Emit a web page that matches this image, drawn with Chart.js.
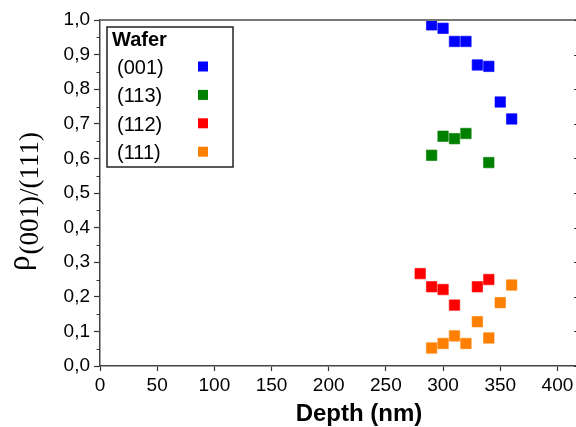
<!DOCTYPE html>
<html>
<head>
<meta charset="utf-8">
<script src="https://cdn.jsdelivr.net/npm/chart.js@4/dist/chart.umd.min.js"></script>
<style>
    html, body { margin: 0; padding: 0; background: #fff; overflow: hidden; }
    #wrap { width: 576px; height: 427px; overflow: hidden; }
</style>
</head>
<body>
<div id="wrap"><canvas id="chart" width="580" height="427"></canvas></div>
<script>
// Tick labels
const depthTicks = [0, 50, 100, 150, 200, 250, 300, 350, 400];
const rhoTicks = [0, 0.1, 0.2, 0.3, 0.4, 0.5, 0.6, 0.7, 0.8, 0.9, 1.0];
const rhoMinor = [0.05, 0.15, 0.25, 0.35, 0.45, 0.55, 0.65, 0.75, 0.85, 0.95];

// Series (depth in nm, rho ratio)
const waferLabels = ['(001)', '(113)', '(112)', '(111)'];
const waferColors = ['#0000ff', '#008000', '#ff0000', '#ff8000'];

const depth001 = [290, 300, 310, 320, 330, 340, 350, 360];
const rho001 = [0.986, 0.976, 0.938, 0.938, 0.870, 0.866, 0.763, 0.714];
const depth113 = [290, 300, 310, 320, 340];
const rho113 = [0.609, 0.664, 0.657, 0.672, 0.588];
const depth112 = [280, 290, 300, 310, 330, 340];
const rho112 = [0.267, 0.229, 0.221, 0.176, 0.229, 0.250];
const depth111 = [290, 300, 310, 320, 330, 340, 350, 360];
const rho111 = [0.052, 0.065, 0.087, 0.065, 0.128, 0.081, 0.183, 0.234];

const seriesX = [depth001, depth113, depth112, depth111];
const seriesY = [rho001, rho113, rho112, rho111];

const SANS = '"Liberation Sans", Arial, sans-serif';
const SERIF = '"Liberation Serif", "Times New Roman", serif';

function toPoints(xs, ys) {
    return xs.map((x, i) => ({ x: x, y: ys[i] }));
}

const datasets = waferLabels.map((label, i) => ({
    label: label,
    data: toPoints(seriesX[i], seriesY[i]),
    backgroundColor: waferColors[i],
    borderColor: waferColors[i] + '99',
    borderWidth: 1,
    pointStyle: 'rect',
    pointRadius: 7.4,
    pointHoverRadius: 7.4,
    showLine: false
}));

// frame, minor ticks, right-side ticks
const framePlugin = {
    id: 'frame',
    afterDraw(chart) {
        const { ctx, chartArea: a, scales } = chart;
        ctx.save();
        ctx.strokeStyle = '#777';
        ctx.lineWidth = 2;
        ctx.beginPath();
        ctx.moveTo(a.left, a.top);
        ctx.lineTo(a.right, a.top);
        ctx.lineTo(a.right, a.bottom);
        ctx.stroke();

        ctx.strokeStyle = '#333';
        ctx.lineWidth = 1.2;
        ctx.beginPath();
        rhoMinor.forEach(v => {
            const y = Math.round(scales.y.getPixelForValue(v)) + 0.5;
            ctx.moveTo(a.left, y);
            ctx.lineTo(a.left - 3.5, y);
        });
        rhoTicks.forEach(v => {
            const y = Math.round(scales.y.getPixelForValue(v)) + 0.5;
            ctx.moveTo(a.right, y);
            ctx.lineTo(a.right - 4, y);
        });
        ctx.stroke();
        ctx.restore();
    }
};

// legend box with title on top, text left and marker right
const legendPlugin = {
    id: 'waferLegend',
    afterDraw(chart) {
        const ctx = chart.ctx;
        ctx.save();
        ctx.fillStyle = '#fff';
        ctx.fillRect(107, 27, 126, 140);
        ctx.strokeStyle = '#222';
        ctx.lineWidth = 1.5;
        ctx.strokeRect(107, 27, 126, 140);

        ctx.fillStyle = '#000';
        ctx.textBaseline = 'alphabetic';
        ctx.textAlign = 'left';
        ctx.font = 'bold 20px ' + SANS;
        ctx.fillText('Wafer', 112, 46);

        ctx.font = '20px ' + SANS;
        waferLabels.forEach((label, i) => {
            const cy = 66.5 + i * 28.4;
            ctx.fillStyle = '#000';
            ctx.fillText(label, 117, cy + 7.5);
            ctx.fillStyle = waferColors[i];
            ctx.fillRect(198, cy - 5, 10, 10);
        });
        ctx.restore();
    }
};

// axis titles (rho with subscript, depth)
const titlePlugin = {
    id: 'axisTitles',
    afterDraw(chart) {
        const ctx = chart.ctx;
        ctx.save();
        ctx.fillStyle = '#000';
        ctx.textBaseline = 'alphabetic';
        ctx.textAlign = 'left';
        ctx.translate(29, 271);
        ctx.rotate(-Math.PI / 2);
        ctx.font = '31px ' + SERIF;
        ctx.fillText('ρ', 0, 0);
        const w = ctx.measureText('ρ').width;
        ctx.font = '27px ' + SERIF;
        ctx.fillText('(001)/(111)', w + 1, 9);
        ctx.restore();

        ctx.save();
        ctx.fillStyle = '#000';
        ctx.textAlign = 'center';
        ctx.textBaseline = 'alphabetic';
        ctx.font = 'bold 24px ' + SANS;
        ctx.fillText('Depth (nm)', 359, 421);
        ctx.restore();
    }
};

new Chart(document.getElementById('chart').getContext('2d'), {
    type: 'scatter',
    data: { datasets: datasets },
    options: {
        responsive: false,
        animation: false,
        layout: { autoPadding: false, padding: { top: 20, right: 2, left: 0, bottom: 0 } },
        plugins: {
            legend: { display: false },
            tooltip: { enabled: false }
        },
        scales: {
            x: {
                type: 'linear',
                min: 0,
                max: 418,
                afterBuildTicks: s => { s.ticks = depthTicks.map(v => ({ value: v })); },
                afterFit: s => { s.height = 61; },
                ticks: {
                    color: '#000',
                    font: { family: SANS, size: 19 },
                    padding: 3,
                    maxRotation: 0,
                    autoSkip: false,
                    callback: v => String(v)
                },
                grid: { drawOnChartArea: false, tickLength: 5, tickColor: '#333', tickWidth: 1.2 },
                border: { color: '#444', width: 1.5 }
            },
            y: {
                type: 'linear',
                min: 0,
                max: 1,
                afterBuildTicks: s => { s.ticks = rhoTicks.map(v => ({ value: v })); },
                afterFit: s => { s.width = 100; },
                ticks: {
                    color: '#000',
                    font: { family: SANS, size: 19 },
                    padding: 4,
                    autoSkip: false,
                    callback: v => v.toFixed(1).replace('.', ',')
                },
                grid: { drawOnChartArea: false, tickLength: 6, tickColor: '#333', tickWidth: 1.2 },
                border: { color: '#444', width: 1.5 }
            }
        }
    },
    plugins: [framePlugin, legendPlugin, titlePlugin]
});
</script>
</body>
</html>
